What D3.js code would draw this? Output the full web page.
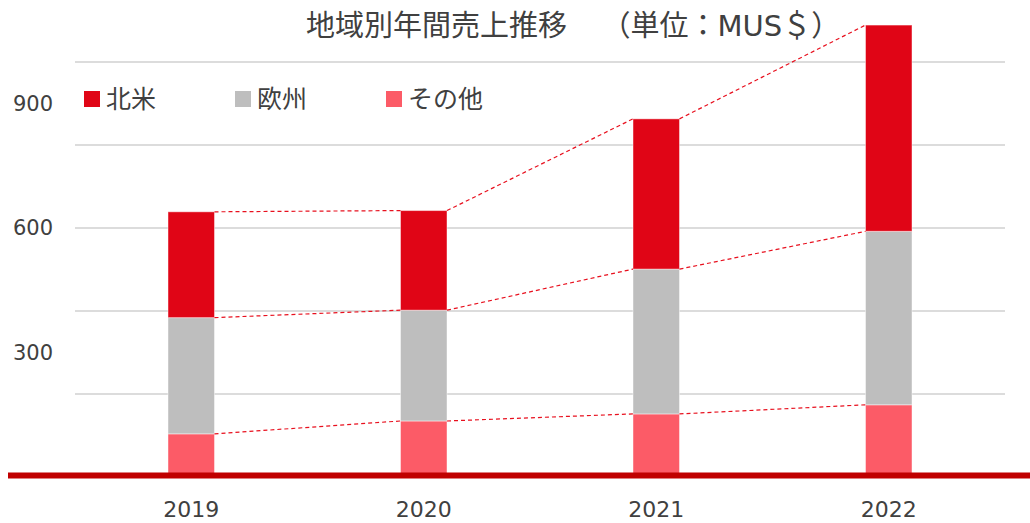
<!DOCTYPE html>
<meta charset="utf-8">
<style>
  body { margin: 0; background: #fff; }
  text { font-family: "DejaVu Sans", "Noto Sans CJK JP", sans-serif; fill: #404040; }
  .grid line { stroke: #d0d0d0; stroke-width: 1.3; }
  .y-label { font-size: 21px; }
  .x-label { font-size: 22px; }
  .title { font-size: 29px; }
  .legend text { font-size: 25px; }
</style>
<svg width="1030" height="523"></svg>
<script src="https://d3js.org/d3.v7.min.js"></script>
<script>
// data
var years = ["2019", "2020", "2021", "2022"];
var series = ["その他", "欧州", "北米"];   // bottom to top
var other = [104, 135, 152, 174];
var europe = [280, 267, 349, 418];
var northAmerica = [255, 240, 362, 497];
var yTickLabels = [300, 600, 900];
var gridValues = [200, 400, 600, 800, 1000];
var colors = { "北米": "#e00516", "欧州": "#bebebe", "その他": "#fc5b67" };
var legendOrder = ["北米", "欧州", "その他"];

var svg = d3.select("svg");

var x = d3.scaleBand()
    .domain(years)
    .range([75, 1005])
    .paddingInner(0.8)
    .paddingOuter(0.4);

var y = d3.scaleLinear()
    .domain([0, 1000])
    .range([477, 62]);

var rows = years.map(function (yr, i) {
  return { year: yr, "その他": other[i], "欧州": europe[i], "北米": northAmerica[i] };
});
var stacked = d3.stack().keys(series)(rows);

// gridlines
svg.append("g").attr("class", "grid")
  .selectAll("line")
  .data(gridValues)
  .enter().append("line")
    .attr("x1", 75).attr("x2", 1005)
    .attr("y1", function (d) { return y(d); })
    .attr("y2", function (d) { return y(d); });

// y labels (not aligned with grid, like the source)
svg.append("g")
  .selectAll("text")
  .data(yTickLabels)
  .enter().append("text")
    .attr("class", "y-label")
    .attr("x", 53)
    .attr("y", function (d) { return y(d); })
    .attr("text-anchor", "end")
    .attr("dominant-baseline", "central")
    .text(function (d) { return d; });

// bars
svg.append("g")
  .selectAll("g")
  .data(stacked)
  .enter().append("g")
    .attr("fill", function (d) { return colors[d.key]; })
  .selectAll("rect")
  .data(function (d) { return d; })
  .enter().append("rect")
    .attr("x", function (d) { return x(d.data.year); })
    .attr("width", x.bandwidth())
    .attr("y", function (d) { return y(d[1]); })
    .attr("height", function (d) { return y(d[0]) - y(d[1]); })
    .attr("stroke", "rgba(255,255,255,0.45)")
    .attr("stroke-width", 1);

// dashed connectors between stack tops
stacked.forEach(function (s) {
  for (var i = 0; i < years.length - 1; i++) {
    svg.append("line")
      .attr("x1", x(years[i]) + x.bandwidth())
      .attr("y1", y(s[i][1]))
      .attr("x2", x(years[i + 1]))
      .attr("y2", y(s[i + 1][1]))
      .attr("stroke", "#e8101e")
      .attr("stroke-width", 1.2)
      .attr("stroke-dasharray", "4,3");
  }
});

// baseline
svg.append("rect")
  .attr("x", 8).attr("width", 1022)
  .attr("y", y(0) - 4.5).attr("height", 6)
  .attr("fill", "#c00000");

// x labels
svg.append("g")
  .selectAll("text")
  .data(years)
  .enter().append("text")
    .attr("class", "x-label")
    .attr("x", function (d) { return x(d) + x.bandwidth() / 2; })
    .attr("y", 517)
    .attr("text-anchor", "middle")
    .text(function (d) { return d; });

// title
var title = svg.append("text")
  .attr("class", "title")
  .attr("x", 306)
  .attr("y", 36);
title.append("tspan").text("地域別年間売上推移");
title.append("tspan").attr("dx", 20).text("　（単位：MUS＄）");

// legend
var legendX = [84, 235, 386];
var lg = svg.append("g").attr("class", "legend")
  .selectAll("g")
  .data(legendOrder)
  .enter().append("g")
    .attr("transform", function (d, i) { return "translate(" + legendX[i] + ",91)"; });
lg.append("rect")
  .attr("width", 16).attr("height", 16)
  .attr("fill", function (d) { return colors[d]; });
lg.append("text")
  .attr("x", 22).attr("y", 17)
  .text(function (d) { return d; });
</script>
